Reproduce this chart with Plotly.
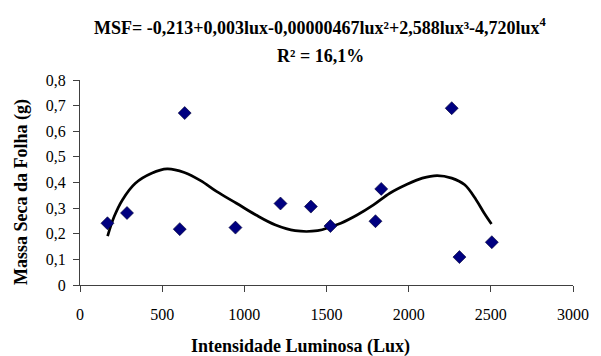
import plotly.graph_objects as go

# Light intensity (lux) and leaf dry mass (g)
lux = [167, 286, 607, 637, 946, 1220, 1405, 1524, 1798, 1833, 2262, 2309, 2506]
msf = [0.241, 0.281, 0.218, 0.671, 0.224, 0.318, 0.306, 0.230, 0.249, 0.375, 0.690, 0.109, 0.167]

# 4th-order polynomial trend line, sampled along the fitted curve
trend_lux = [168, 208, 258, 337, 436, 530, 635, 734, 833, 952, 1071, 1190, 1309,
             1446, 1530, 1587, 1686, 1786, 1885, 1984, 2083, 2173, 2262, 2341,
             2411, 2460, 2504]
trend_msf = [0.191, 0.267, 0.332, 0.397, 0.436, 0.453, 0.439, 0.407, 0.364, 0.319,
             0.273, 0.234, 0.212, 0.212, 0.228, 0.241, 0.273, 0.3125, 0.358, 0.391,
             0.417, 0.427, 0.417, 0.391, 0.332, 0.280, 0.238]

x_ticks = [0, 500, 1000, 1500, 2000, 2500, 3000]
y_ticks = [0, 0.1, 0.2, 0.3, 0.4, 0.5, 0.6, 0.7, 0.8]

title_eq = "MSF= -0,213+0,003lux-0,00000467lux²+2,588lux³-4,720lux<sup>4</sup>"
title_r2 = "R² = 16,1%"
x_title = "Intensidade Luminosa (Lux)"
y_title = "Massa Seca da Folha (g)"

FONT = "Liberation Serif"

fig = go.Figure()
fig.add_trace(go.Scatter(
    x=trend_lux, y=trend_msf, mode="lines",
    line=dict(color="black", width=2.7, shape="spline", smoothing=1),
    hoverinfo="skip", showlegend=False,
))
fig.add_trace(go.Scatter(
    x=lux, y=msf, mode="markers",
    marker=dict(symbol="diamond", size=10, color="#000080",
                line=dict(color="#000030", width=0.6)),
    showlegend=False,
))

axis_common = dict(
    showgrid=False, zeroline=False, showline=True,
    linecolor="#404040", linewidth=1,
    ticks="outside", ticklen=6, tickcolor="#404040", tickwidth=1,
    tickfont=dict(family=FONT, size=16, color="black"),
)

fig.update_layout(
    width=601, height=356,
    margin=dict(l=80, r=21, t=80, b=71),
    paper_bgcolor="white", plot_bgcolor="white",
    separators=",.",
    xaxis=dict(range=[0, 3000], tickvals=x_ticks, ticklabelstandoff=9, **axis_common),
    yaxis=dict(range=[0, 0.8], tickvals=y_ticks, ticklabelstandoff=4, **axis_common),
    annotations=[
        dict(text="<b>" + title_eq + "</b>", xref="paper", yref="paper",
             x=0.488, y=1.262, xanchor="center", yanchor="middle", showarrow=False,
             font=dict(family=FONT, size=18, color="black")),
        dict(text="<b>" + title_r2 + "</b>", xref="paper", yref="paper",
             x=0.487, y=1.117, xanchor="center", yanchor="middle", showarrow=False,
             font=dict(family=FONT, size=18, color="black")),
        dict(text="<b>" + x_title + "</b>", xref="paper", yref="paper",
             x=0.448, y=-0.302, xanchor="center", yanchor="middle", showarrow=False,
             font=dict(family=FONT, size=18, color="black")),
        dict(text="<b>" + y_title + "</b>", xref="paper", yref="paper",
             x=-0.12, y=0.453, xanchor="center", yanchor="middle", showarrow=False,
             textangle=-90,
             font=dict(family=FONT, size=18, color="black")),
    ],
)

fig.write_html("out.html")
